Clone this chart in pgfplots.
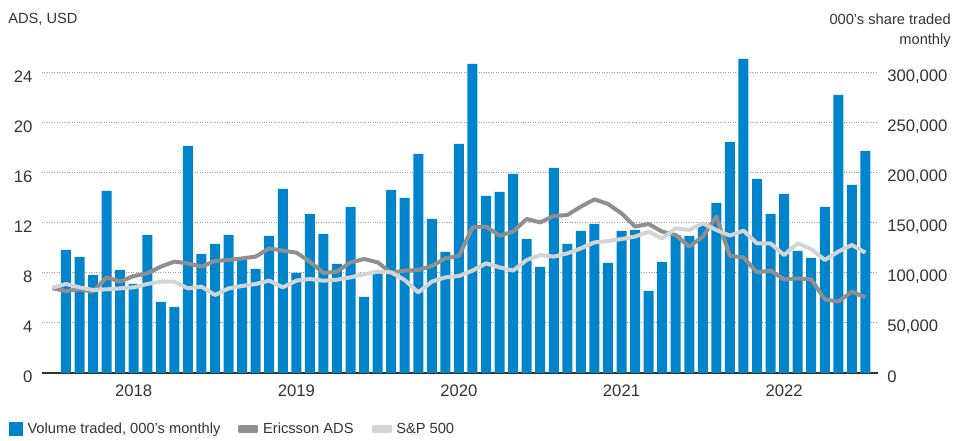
\documentclass[border=0pt]{standalone}
\usepackage{pgfplots}
\pgfplotsset{compat=1.18}
\usepackage{fontspec}
\setmainfont{Liberation Sans}
\definecolor{barblue}{HTML}{0084CC}
\definecolor{adsgray}{HTML}{8F8F8F}
\definecolor{spgray}{HTML}{D4D4D4}
\definecolor{txt}{HTML}{333333}
\definecolor{gridc}{HTML}{9A9A9A}
\begin{document}
\begin{tikzpicture}[font=\fontsize{11}{13}\selectfont, text=txt]
\useasboundingbox (-31.5pt,-51pt) rectangle (683.25pt,279.75pt);
\begin{axis}[
  at={(0,0)}, anchor=south west,
  scale only axis, width=627pt, height=240pt,
  xmin=-1.77, xmax=59.93, ymin=0, ymax=320000,
  axis x line*=bottom, axis y line*=right,
  x axis line style={draw=txt, line width=2pt, -},
  y axis line style={draw=none},
  scaled y ticks=false,
  xtick={5,17,29,41,53}, xticklabels={2018,2019,2020,2021,2022},
  ytick={0,50000,100000,150000,200000,250000,300000},
  yticklabels={0,{50,000},{100,000},{150,000},{200,000},{250,000},{300,000}},
  major tick length=0pt,
  xticklabel style={anchor=north, inner sep=0pt, yshift=-9pt, font=\fontsize{12.5}{14}\selectfont, text=txt},
  yticklabel style={anchor=west, inner sep=0pt, xshift=6.75pt, yshift=-2.6pt, font=\fontsize{12.5}{14}\selectfont, text=txt},
  ymajorgrids, grid style={gridc, line width=0.75pt, dash pattern=on 0.75pt off 1.1pt},
  ybar, bar width=7.5pt, bar shift=0pt,
]
\addplot[fill=barblue, draw=none] coordinates {
(0,123000) (1,116000) (2,98000) (3,182000) (4,103000) (5,89000) (6,138000) (7,71000) (8,66000) (9,227000)
(10,119000) (11,129000) (12,138000) (13,113000) (14,104000) (15,137000) (16,184000) (17,100000) (18,159000) (19,139000)
(20,109000) (21,166000) (22,76000) (23,100000) (24,183000) (25,175000) (26,219000) (27,154000) (28,121000) (29,229000)
(30,309000) (31,177000) (32,181000) (33,199000) (34,134000) (35,106000) (36,205000) (37,129000) (38,142000) (39,149000)
(40,110000) (41,142000) (42,143000) (43,82000) (44,111000) (45,138000) (46,137000) (47,148000) (48,170000) (49,231000)
(50,314000) (51,194000) (52,159000) (53,179000) (54,122000) (55,115000) (56,166000) (57,278000) (58,188000) (59,222000)
};
\end{axis}
\begin{axis}[
  at={(0,0)}, anchor=south west,
  scale only axis, width=627pt, height=240pt,
  xmin=-1.77, xmax=59.93, ymin=0, ymax=25.6,
  hide x axis,
  axis y line*=left, y axis line style={draw=none},
  ytick={0,4,...,24}, major tick length=0pt,
  /pgf/number format/assume math mode=true,
  yticklabel style={anchor=east, inner sep=0pt, xshift=-7pt, yshift=-2.6pt, font=\fontsize{12.5}{14}\selectfont, text=txt},
  legend columns=3,
  legend style={at={(-0.0395,-0.175)}, anchor=west, draw=none, fill=none, inner sep=0pt,
    font=\fontsize{11}{13}\selectfont, text=txt,
    /tikz/every even column/.append style={column sep=10pt},
    nodes={inner sep=3.5pt}},
]
\addlegendimage{legend image code/.code={\fill[barblue] (0pt,-4.9pt) rectangle (9.8pt,4.9pt);}}
\addlegendentry{Volume traded, 000’s monthly}
\addplot[adsgray, line width=3pt, line join=round, mark=none,
  legend image code/.code={\fill[adsgray] (0pt,-1.8pt) rectangle (12pt,1.8pt);}] coordinates {
(-1,6.77) (0,6.56) (1,6.69) (2,6.51) (3,7.65) (4,7.31) (5,7.76) (6,7.97) (7,8.51) (8,8.91) (9,8.77)
(10,8.51) (11,8.96) (12,9.04) (13,9.17) (14,9.31) (15,9.97) (16,9.79) (17,9.63) (18,8.91) (19,8.0)
(20,8.11) (21,8.85) (22,9.12) (23,8.85) (24,8.03) (25,8.19) (26,8.24) (27,8.56) (28,9.17) (29,9.36)
(30,11.65) (31,11.71) (32,10.99) (33,11.31) (34,12.32) (35,12.05) (36,12.56) (37,12.64) (38,13.31) (39,13.89)
(40,13.52) (41,12.77) (42,11.71) (43,11.92) (44,11.31) (45,11.04) (46,10.11) (47,10.91) (48,12.51) (49,9.36)
(50,9.25) (51,8.05) (52,8.19) (53,7.49) (54,7.57) (55,7.49) (56,5.89) (57,5.71) (58,6.51) (59,6.05)
};
\addlegendentry{Ericsson ADS}
\addplot[spgray, line width=3pt, line join=round, mark=none,
  legend image code/.code={\fill[spgray] (0pt,-1.8pt) rectangle (12pt,1.8pt);}] coordinates {
(-1,6.83) (0,7.12) (1,6.85) (2,6.64) (3,6.69) (4,6.77) (5,6.85) (6,7.12) (7,7.31) (8,7.31) (9,6.77)
(10,6.91) (11,6.24) (12,6.77) (13,6.96) (14,7.12) (15,7.39) (16,6.85) (17,7.39) (18,7.52) (19,7.38)
(20,7.46) (21,7.65) (22,7.89) (23,8.11) (24,8.05) (25,7.44) (26,6.45) (27,7.31) (28,7.65) (29,7.76)
(30,8.19) (31,8.77) (32,8.45) (33,8.19) (34,9.04) (35,9.44) (36,9.31) (37,9.57) (38,9.97) (39,10.45)
(40,10.55) (41,10.72) (42,10.91) (43,11.31) (44,10.77) (45,11.57) (46,11.44) (47,11.97) (48,11.44) (49,10.99)
(50,11.39) (51,10.37) (52,10.37) (53,9.44) (54,10.37) (55,9.92) (56,9.04) (57,9.71) (58,10.24) (59,9.63)
};
\addlegendentry{S\&P 500}
\end{axis}
\node[anchor=base west, inner sep=0pt] at (-25.5pt,262.3pt) {ADS, USD};
\node[anchor=base east, inner sep=0pt] at (681.75pt,261pt) {000’s share traded};
\node[anchor=base east, inner sep=0pt] at (681.75pt,246pt) {monthly};
\end{tikzpicture}
\end{document}
